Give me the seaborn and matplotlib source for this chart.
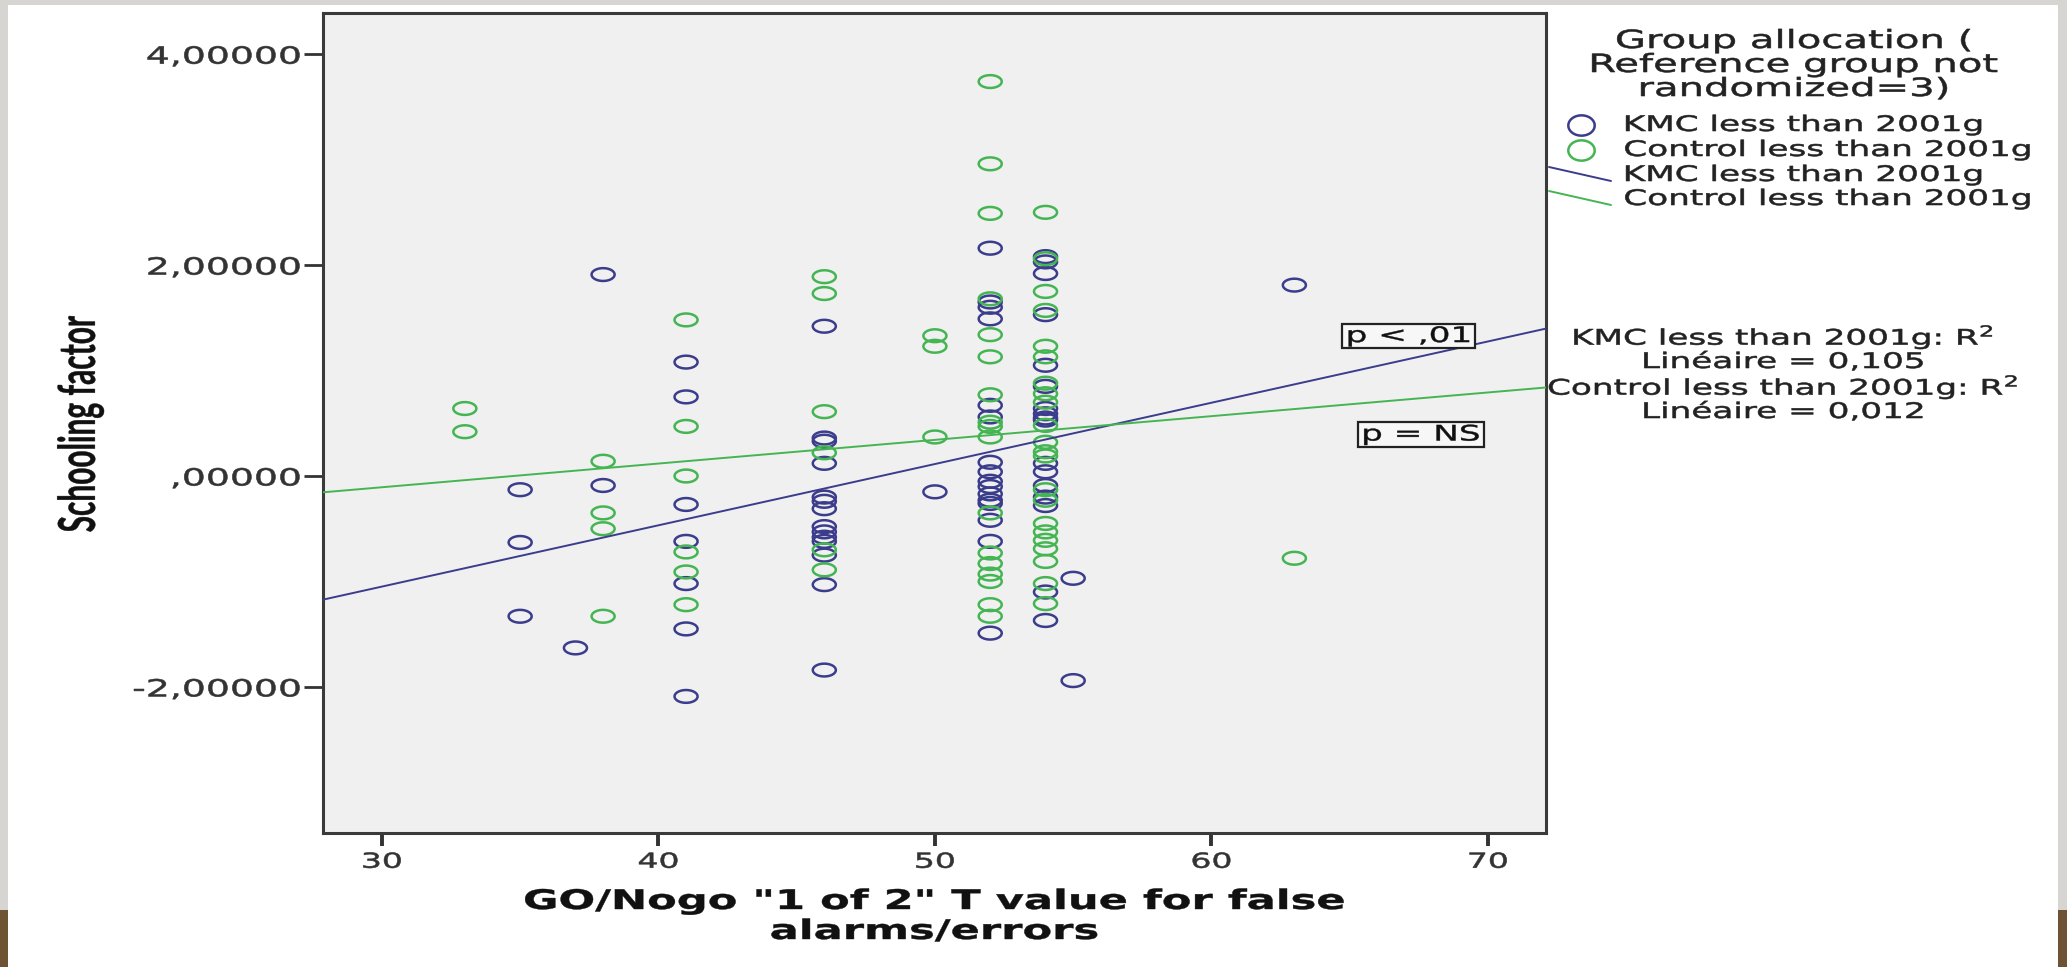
import numpy as np
import pandas as pd
import matplotlib
matplotlib.use("Agg")
import matplotlib.pyplot as plt
import seaborn as sns
from matplotlib.patheffects import AbstractPathEffect
from matplotlib.transforms import Affine2D
from matplotlib.path import Path
from matplotlib.lines import Line2D
from matplotlib.patches import Rectangle

# ---------------- data ----------------
groups = ["KMC less than 2001g", "Control less than 2001g"]
colors = ["#3b3d8c", "#45b553"]

kmc_x = [35, 35, 35, 37, 38, 38,
         41, 41, 41, 41, 41, 41, 41,
         46, 46, 46, 46, 46, 46, 46, 46, 46, 46, 46, 46, 46, 46,
         50,
         52, 52, 52, 52, 52, 52, 52, 52, 52, 52, 52, 52, 52, 52, 52, 52,
         54, 54, 54, 54, 54, 54, 54, 54, 54, 54, 54, 54, 54, 54, 54, 54, 54,
         55, 55, 63]
kmc_y = [-0.13, -0.63, -1.33, -1.63, 1.91, -0.09,
         1.08, 0.75, -0.27, -0.62, -1.02, -1.45, -2.09,
         1.42, 0.36, 0.33, 0.12, -0.20, -0.24, -0.31, -0.48, -0.53, -0.58, -0.62, -0.75, -1.03, -1.84,
         -0.15,
         2.16, 1.65, 1.60, 1.49, 0.67, 0.56, 0.13, 0.04, -0.05, -0.10, -0.17, -0.23, -0.26, -0.42, -0.62, -1.49,
         2.08, 2.03, 1.92, 1.53, 1.05, 0.85, 0.64, 0.59, 0.55, 0.53, 0.12, 0.04, -0.09, -0.20, -0.28, -1.10, -1.37,
         -0.97, -1.94, 1.81]

ctl_x = [33, 33, 38, 38, 38, 38,
         41, 41, 41, 41, 41, 41,
         46, 46, 46, 46, 46, 46,
         50, 50, 50,
         52, 52, 52, 52, 52, 52, 52, 52, 52, 52, 52, 52, 52, 52, 52, 52, 52,
         54, 54, 54, 54, 54, 54, 54, 54, 54, 54, 54, 54, 54, 54, 54, 54, 54, 54, 54, 54, 54, 54,
         63]
ctl_y = [0.64, 0.42, 0.14, -0.35, -0.50, -1.33,
         1.48, 0.47, 0.00, -0.72, -0.91, -1.22,
         1.89, 1.73, 0.61, 0.22, -0.70, -0.89,
         1.33, 1.23, 0.37,
         3.74, 2.96, 2.49, 1.68, 1.34, 1.13, 0.77, 0.51, 0.47, 0.37, -0.35, -0.73, -0.83, -0.93, -1.00, -1.22, -1.33,
         2.50, 2.06, 1.75, 1.57, 1.23, 1.13, 0.88, 0.78, 0.70, 0.48, 0.32, 0.23, 0.19, -0.13, -0.23, -0.45, -0.53,
         -0.61, -0.69, -0.81, -1.02, -1.21,
         -0.78]

xtick_vals = [30, 40, 50, 60, 70]
xtick_labels = ["30", "40", "50", "60", "70"]
ytick_vals = [-2, 0, 2, 4]
ytick_labels = ["-2,00000", ",00000", "2,00000", "4,00000"]
r2_labels = ["0,105", "0,012"]
p_labels = ["p < ,01", "p = NS"]

# ---------------- horizontal stretch effect (the source image is stretched) ----------------
SX = 1.6
K = 1.7 / SX  # font size compensation


class HStretch(AbstractPathEffect):
    def __init__(self, sx=SX, anchor="center", stroke=0.0):
        super().__init__()
        self.sx = sx
        self.anchor = anchor
        self.stroke = stroke

    def draw_path(self, renderer, gc, tpath, affine, rgbFace=None):
        bb = tpath.get_extents(affine)
        if self.anchor == "left":
            x0 = bb.x0
        elif self.anchor == "right":
            x0 = bb.x1
        else:
            x0 = 0.5 * (bb.x0 + bb.x1)
        aff = affine + Affine2D().translate(-x0, 0).scale(self.sx, 1.0).translate(x0, 0)
        if self.stroke > 0 and rgbFace is not None:
            gc0 = renderer.new_gc()
            gc0.copy_properties(gc)
            gc0.set_linewidth(self.stroke)
            gc0.set_foreground(rgbFace)
            gc0.set_joinstyle("round")
            renderer.draw_path(gc0, tpath, aff, rgbFace)
            gc0.restore()
        else:
            renderer.draw_path(gc, tpath, aff, rgbFace)


sns.set_style("white")
plt.rcParams["font.family"] = ["DejaVu Sans"]

W, H = 2067, 967
fig = plt.figure(figsize=(W / 100, H / 100), dpi=100)
fig.patch.set_facecolor("white")

# slide frame
gray = "#d7d5d1"
brown = "#6e5234"
fig.add_artist(Rectangle((0, 0), 8 / W, 1, transform=fig.transFigure, color=gray, lw=0))
fig.add_artist(Rectangle((0, 1 - 5 / H), 1, 5 / H, transform=fig.transFigure, color=gray, lw=0))
fig.add_artist(Rectangle((1 - 9 / W, 0), 9 / W, 1, transform=fig.transFigure, color=gray, lw=0))
fig.add_artist(Rectangle((0, 0), 8 / W, 57 / H, transform=fig.transFigure, color=brown, lw=0))
fig.add_artist(Rectangle((1 - 9 / W, 0), 9 / W, 57 / H, transform=fig.transFigure, color=brown, lw=0))

ax = fig.add_axes([323 / W, 1 - 833 / H, (1546 - 323) / W, (833 - 13) / H])
ax.set_facecolor("#f0f0f0")
ax.set_xlim(27.87, 72.1)
ax.set_ylim(-3.385, 4.39)

df = pd.DataFrame({
    "x": kmc_x + ctl_x,
    "y": kmc_y + ctl_y,
    "group": [groups[0]] * len(kmc_x) + [groups[1]] * len(ctl_x),
})

theta = np.linspace(0, 2 * np.pi, 73)
ell = Path(np.column_stack([1.8 * np.cos(theta), np.sin(theta)]), closed=True)
ell_leg = Path(np.column_stack([1.3 * np.cos(theta), np.sin(theta)]), closed=True)

sns.scatterplot(data=df, x="x", y="y", hue="group", hue_order=groups,
                palette=dict(zip(groups, colors)), marker=ell, s=275,
                linewidth=1.8, legend=False, ax=ax, zorder=3)
for coll in ax.collections:
    fc = coll.get_facecolors()
    coll.set_edgecolors(fc)
    coll.set_facecolors("none")

for g, c in zip(groups, colors):
    sub = df[df["group"] == g]
    sns.regplot(data=sub, x="x", y="y", scatter=False, ci=None, truncate=False,
                color=c, line_kws=dict(lw=1.4, zorder=4), ax=ax)

ax.set_xlim(27.87, 72.1)
ax.set_ylim(-3.385, 4.39)
ax.set_xlabel("")
ax.set_ylabel("")
ax.set_xticks(xtick_vals, labels=xtick_labels)
ax.set_yticks(ytick_vals, labels=ytick_labels)
ax.tick_params(axis="y", direction="out", length=14, width=2.0, color="#333333",
               labelsize=16.0 * K, labelcolor="#333333", pad=2, left=True)
ax.tick_params(axis="x", direction="out", length=9, width=2.8, color="#333333",
               labelsize=14.0 * K, labelcolor="#333333", pad=4.5, bottom=True)
for side, sp in ax.spines.items():
    sp.set_visible(True)
    sp.set_color("#3a3a3a")
    sp.set_linewidth(2.2)

# p-value boxes
for txt, (px, py) in zip(p_labels, [(67.14, 1.327), (67.58, 0.393)]):
    t = ax.text(px, py, txt, ha="center", va="center", fontsize=14.5 * K, color="#111111",
                bbox=dict(boxstyle="square,pad=0.1", fc="#f7f7f7", ec="#222222", lw=1.6),
                zorder=6)
    t.set_path_effects([HStretch(SX, "center", 0.3)])
    t.get_bbox_patch().set_path_effects([HStretch(SX, "center")])

fig.canvas.draw()
for lab in ax.get_yticklabels():
    lab.set_path_effects([HStretch(SX, "right", 0.4)])
for lab in ax.get_xticklabels():
    lab.set_path_effects([HStretch(SX, "center", 0.4)])

# axis labels
fig.text(80 / W, 1 - 424 / H, "Schooling factor", rotation=90, ha="center", va="center",
         family=["Lato", "DejaVu Sans"], fontweight="bold", fontsize=21.5, color="#111111",
         path_effects=[HStretch(1.7, "center", 0.3)])
xl_lines = ['GO/Nogo "1 of 2" T value for false', "alarms/errors"]
for line, yy in zip(xl_lines, [902, 932]):
    fig.text(934 / W, 1 - yy / H, line, ha="center", va="center", fontsize=18.3 * K,
             fontweight="bold", color="#111111", path_effects=[HStretch(SX, "center", 0.3)])

# legend title
for line, yy in zip(["Group allocation (", "Reference group not", "randomized=3)"], [41, 65, 89]):
    fig.text(1794 / W, 1 - yy / H, line, ha="center", va="center", fontsize=17 * K,
             color="#222222", path_effects=[HStretch(SX, "center", 0.4)])

# legend markers / lines
for c, yy in zip(colors, [125, 150]):
    fig.add_artist(Line2D([1581 / W], [1 - yy / H], transform=fig.transFigure, marker=ell_leg,
                          markersize=19, mfc="none", mec=c, mew=1.8, ls="none"))
for c, (y0, y1) in zip(colors, [(167, 181), (191, 205)]):
    fig.add_artist(Line2D([1549 / W, 1611 / W], [1 - y0 / H, 1 - y1 / H],
                          transform=fig.transFigure, color=c, lw=1.4))
for g, yy in zip(groups + groups, [125, 150, 175, 199]):
    fig.text(1624 / W, 1 - yy / H, g, ha="left", va="center", fontsize=14.5 * K,
             color="#222222", path_effects=[HStretch(SX, "left", 0.4)])

# R^2 annotations
r2_lines = [f"{groups[0]}: R$^2$", f"Linéaire = {r2_labels[0]}",
            f"{groups[1]}: R$^2$", f"Linéaire = {r2_labels[1]}"]
for line, yy in zip(r2_lines, [337, 362, 387, 412]):
    fig.text(1783 / W, 1 - yy / H, line, ha="center", va="center", fontsize=14.5 * K,
             color="#222222", path_effects=[HStretch(SX, "center", 0.4)])

fig.savefig("out.png", dpi=100, facecolor=fig.get_facecolor())
